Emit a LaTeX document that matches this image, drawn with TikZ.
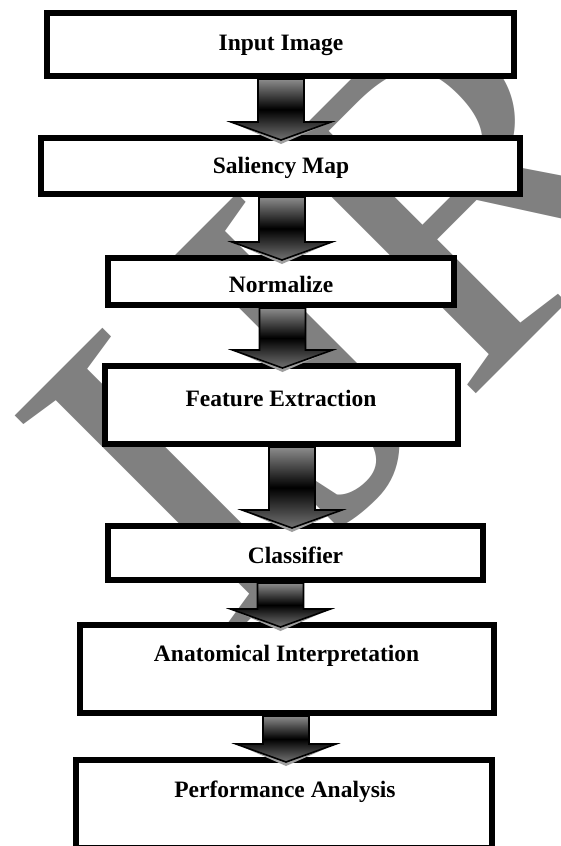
\documentclass[tikz,border=0pt]{standalone}
\usepackage{fontspec}
\setmainfont{Liberation Serif}
\newfontfamily\wmfont{Liberation Serif}
\usetikzlibrary{calc}
\definecolor{wmgray}{HTML}{808080}
\tikzset{
  box/.style={draw=black, line width=6pt, fill=white, inner sep=0pt},
  lbl/.style={font=\bfseries\fontsize{23.5}{28}\selectfont, anchor=base, inner sep=0pt},
  arrbody/.style={draw=black, line width=1.6pt, line join=miter,
    top color=gray!90, bottom color=black!55, middle color=black},
  arrshadow/.style={fill=gray!75},
  wm/.style={text=wmgray, rotate=45, anchor=base west, inner sep=0pt,
    font=\wmfont\fontsize{474}{474}\selectfont}
}
\newcommand\blockarrow[3]{%
  \fill[arrshadow] let \p1=(#1.south), \p2=(#2.north) in
    ({#3pt+50pt},\y2+13pt) -- ({#3pt},\y2-9pt) -- ({#3pt-50pt},\y2+13pt) -- cycle;
  \shadedraw[arrbody] let \p1=(#1.south), \p2=(#2.north) in
    ({#3pt-23pt},\y1) -- ({#3pt+23pt},\y1) -- ({#3pt+23pt},\y2+13pt)
    -- ({#3pt+50pt},\y2+13pt) -- ({#3pt},\y2-5pt) -- ({#3pt-50pt},\y2+13pt)
    -- ({#3pt-23pt},\y2+13pt) -- cycle;
}
\begin{document}
\begin{tikzpicture}[x=1pt,y=-1pt]
\useasboundingbox (0,0) rectangle (560,846);
\clip (0,0) rectangle (560,846);
\fill[white] (0,0) rectangle (560,846);
% watermark
\node[wm] (wmark) at (222,648) {IJR};
% boxes
\node[box, minimum width=467pt, minimum height=63pt] (b1) at (280.5,44.5) {};
\node[box, minimum width=479pt, minimum height=56pt] (b2) at (280.5,166) {};
\node[box, minimum width=346pt, minimum height=47pt] (b3) at (281,281.5) {};
\node[box, minimum width=353pt, minimum height=78pt] (b4) at (281.5,405) {};
\node[box, minimum width=375pt, minimum height=54pt] (b5) at (295.5,553) {};
\node[box, minimum width=414pt, minimum height=88pt] (b6) at (287,669) {};
\node[box, minimum width=416pt, minimum height=88pt] (b7) at (284,804) {};
% labels
\node[lbl] (t1) at (281,50) {Input Image};
\node[lbl] (t2) at (281,173) {Saliency Map};
\node[lbl] (t3) at (281,292) {Normalize};
\node[lbl] (t4) at (281,406) {Feature Extraction};
\node[lbl] (t5) at (295.5,563) {Classifier};
\node[lbl] (t6) at (286.6,661) {Anatomical Interpretation};
\node[lbl] (t7) at (285,797) {Performance Analysis};
% arrows
\blockarrow{b1}{b2}{281}
\blockarrow{b2}{b3}{282}
\blockarrow{b3}{b4}{282.5}
\blockarrow{b4}{b5}{292}
\blockarrow{b5}{b6}{280.5}
\blockarrow{b6}{b7}{286}
\end{tikzpicture}
\end{document}
